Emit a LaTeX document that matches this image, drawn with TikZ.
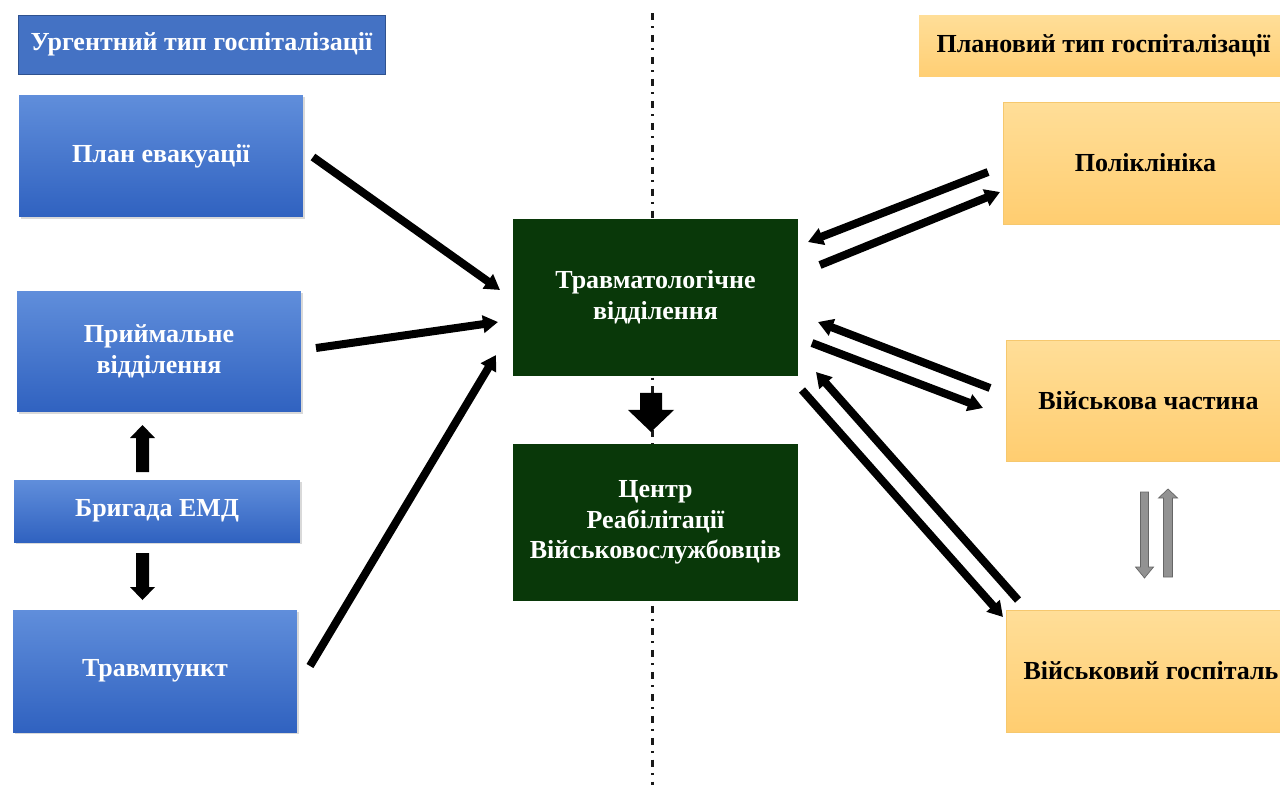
\documentclass[tikz,border=0pt]{standalone}
\usepackage{fontspec}
\setmainfont{Liberation Serif}
\usepackage{tikz}
\usetikzlibrary{%
  arrows.meta,%
  calc,%
  shadows}

\definecolor{urgfill}{RGB}{68,114,196}
\definecolor{urgedge}{RGB}{47,82,143}
\definecolor{bluetop}{RGB}{96,142,219}
\definecolor{bluebot}{RGB}{48,98,192}
\definecolor{wardgreen}{RGB}{9,56,9}
\definecolor{plantop}{RGB}{255,222,152}
\definecolor{planbot}{RGB}{255,205,112}
\definecolor{planedge}{RGB}{246,200,110}
\definecolor{arrowgrey}{RGB}{146,146,146}

\tikzset{
  box/.style={rectangle, inner sep=0pt, outer sep=0pt, align=center,
    font=\bfseries\fontsize{14.8}{17.5}\selectfont},
  urgtitle/.style={box, fill=urgfill, draw=urgedge, line width=0.5pt, text=white},
  urgbox/.style={box, top color=bluetop, bottom color=bluebot, text=white,
    drop shadow={opacity=0.3, shadow xshift=1.2pt, shadow yshift=-1.2pt}},
  wardbox/.style={box, fill=wardgreen, text=white},
  plantitle/.style={box, top color=plantop, bottom color=planbot!90!plantop, text=black},
  planbox/.style={box, top color=plantop, bottom color=planbot, draw=planedge,
    line width=0.4pt, text=black},
  fatarrow/.style={line width=0.16cm, -{Triangle[length=0.3cm,width=0.34cm]}},
  blockarrow/.style={fill=black},
  greyarrow/.style={fill=arrowgrey, draw=arrowgrey!70!black, line width=0.4pt}
}

\begin{document}
\begin{tikzpicture}[x=0.02cm,y=-0.02cm]
  \useasboundingbox (0,0) rectangle (1280,785);
  \clip (0,0) rectangle (1280,785);

  % dividing line
  \draw[line width=1.7pt, black!90, dash pattern=on 4pt off 3.5pt on 1.2pt off 3.8pt]
    (652,13) -- (652,785);

  % urgent side
  \node[urgtitle, minimum width=7.34cm, minimum height=1.18cm] (urg) at (201.5,44.5)
    {Ургентний тип госпіталізації};
  \node[urgbox, minimum width=5.68cm, minimum height=2.44cm] (plan) at (161,156)
    {План евакуації};
  \node[urgbox, minimum width=5.68cm, minimum height=2.42cm] (prijm) at (159,351.5)
    {Приймальне\\відділення};
  \node[urgbox, minimum width=5.72cm, minimum height=1.24cm] (brig) at (157,511)
    {Бригада ЕМД};
  \node[urgbox, minimum width=5.68cm, minimum height=2.44cm] (travmp) at (155,671)
    {Травмпункт};

  % wards
  \node[wardbox, minimum width=5.70cm, minimum height=3.14cm] (trav) at (655.5,297.5)
    {Травматологічне\\відділення};
  \node[wardbox, minimum width=5.70cm, minimum height=3.14cm] (centr) at (655.5,522.5)
    {Центр\\Реабілітації\\Військовослужбовців};

  % planned side
  \node[plantitle, minimum width=7.38cm, minimum height=1.24cm] (plant) at (1103.5,46)
    {Плановий тип госпіталізації};
  \node[planbox, minimum width=5.70cm, minimum height=2.44cm] (polik) at (1145.5,163)
    {Поліклініка};
  \node[planbox, minimum width=5.70cm, minimum height=2.42cm] (vch) at (1148.5,400.5)
    {Військова частина};
  \node[planbox, minimum width=5.80cm, minimum height=2.44cm] (hosp) at (1151,671)
    {Військовий госпіталь};

  % arrows into the ward
  \draw[fatarrow] ($(plan.east)+(10,1)$) -- ($(trav.west)+(-13,-7.5)$);
  \draw[fatarrow] ($(prijm.east)+(15,-3.5)$) -- ($(trav.west)+(-15,24.5)$);
  \draw[fatarrow] ($(travmp.east)+(13,-5)$) -- ($(trav.south west)+(-17,-21)$);

  % arrows both ways on the right
  \draw[fatarrow] ($(polik.west)+(-15,9)$) -- ($(trav.east)+(10,-55.5)$);
  \draw[fatarrow] ($(trav.east)+(22,-32.5)$) -- ($(polik.west)+(-3,29)$);
  \draw[fatarrow] ($(vch.west)+(-16,-12.5)$) -- ($(trav.east)+(20,24.5)$);
  \draw[fatarrow] ($(trav.east)+(14,45.5)$) -- ($(vch.west)+(-23,7.5)$);
  \draw[fatarrow] ($(hosp.north west)+(12,-10)$) -- ($(trav.south east)+(18,-4)$);
  \draw[fatarrow] ($(trav.south east)+(4,14)$) -- ($(hosp.north west)+(-3,7)$);

  % block arrows
  \fill[blockarrow] ($(trav.south)+(-15.5,17)$) -- ++(22,0) -- ++(0,17) -- ++(12,0)
    -- ++(-23,22) -- ++(-23,-22) -- ++(12,0) -- cycle;
  \fill[blockarrow] ($(brig.north)+(-21,-8)$) -- ++(0,-34) -- ++(-6,0) -- ++(12.5,-13)
    -- ++(12.5,13) -- ++(-6,0) -- ++(0,34) -- cycle;
  \fill[blockarrow] ($(brig.south)+(-21,11)$) -- ++(0,34) -- ++(-6,0) -- ++(12.5,13)
    -- ++(12.5,-13) -- ++(-6,0) -- ++(0,-34) -- cycle;
  \filldraw[greyarrow] ($(vch.south)+(-8,31)$) -- ++(0,75) -- ++(-5,0) -- ++(9,11)
    -- ++(9,-11) -- ++(-5,0) -- ++(0,-75) -- cycle;
  \filldraw[greyarrow] ($(vch.south)+(15,116)$) -- ++(0,-79) -- ++(-5,0) -- ++(9.5,-9)
    -- ++(9.5,9) -- ++(-5,0) -- ++(0,79) -- cycle;
\end{tikzpicture}
\end{document}
